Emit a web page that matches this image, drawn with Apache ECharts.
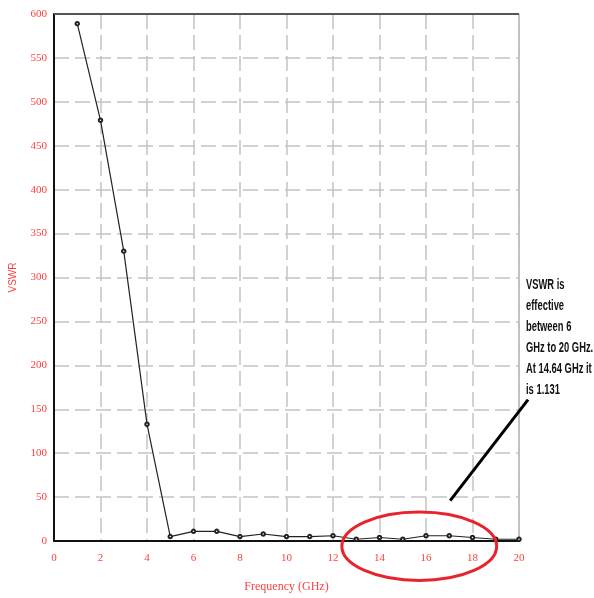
<!DOCTYPE html>
<html>
<head>
<meta charset="utf-8">
<script src="https://cdn.jsdelivr.net/npm/echarts@6/dist/echarts.min.js"></script>
<style>
  html, body { margin: 0; padding: 0; background: #fff; }
  #chart { width: 594px; height: 598px; }
</style>
</head>
<body>
<div id="chart"></div>
<script>
// VSWR measured at each integer frequency step
const frequencyGHz = [1, 2, 3, 4, 5, 6, 7, 8, 9, 10, 11, 12, 13, 14, 15, 16, 17, 18, 19, 20];
const vswr = [589, 479, 330, 133, 5, 11, 11, 5, 8, 5, 5, 6, 2, 4, 2, 6, 6, 4, 2, 2];

const xTicks = { min: 0, max: 20, step: 2 };
const yTicks = { min: 0, max: 600, step: 50 };

const noteText = 'VSWR is\neffective\nbetween 6\nGHz to 20 GHz.\nAt 14.64 GHz it\nis 1.131';

// Callout anchors in data units (frequency, VSWR)
const calloutFrom = [17.04, 46];
const calloutTo = [20.39, 161];
const ringCenter = [15.71, -6];
const ringHalfWidth = 3.33;
const ringHalfHeight = 39;

const red = '#ff4040';
const serif = "'Liberation Serif', serif";

const chart = echarts.init(document.getElementById('chart'));

const seriesData = frequencyGHz.map((f, i) => [f, vswr[i]]);

const dash = { type: [15, 6], color: '#c4c4c4', width: 1.5 };

chart.setOption({
  animation: false,
  backgroundColor: '#ffffff',
  grid: {
    left: 53, right: 75, top: 14, bottom: 54,
    show: true, borderColor: '#808080', borderWidth: 1
  },
  xAxis: {
    type: 'value',
    min: xTicks.min, max: xTicks.max, interval: xTicks.step,
    name: 'Frequency (GHz)',
    nameLocation: 'middle',
    nameGap: 40,
    nameTextStyle: { color: red, fontFamily: serif, fontSize: 12 },
    axisLine: { show: true, onZero: false, lineStyle: { color: '#111', width: 2 } },
    axisTick: { show: false },
    axisLabel: { color: red, fontFamily: serif, fontSize: 11, margin: 12 },
    splitLine: { show: true, lineStyle: dash }
  },
  yAxis: {
    type: 'value',
    min: yTicks.min, max: yTicks.max, interval: yTicks.step,
    name: 'VSWR',
    nameLocation: 'middle',
    nameRotate: 90,
    nameGap: 36,
    nameTextStyle: { color: red, fontFamily: "'Liberation Sans', sans-serif", fontSize: 10 },
    axisLine: { show: true, lineStyle: { color: '#111', width: 2 } },
    axisTick: { show: false },
    axisLabel: { color: red, fontFamily: serif, fontSize: 11, margin: 7 },
    splitLine: { show: true, lineStyle: dash }
  },
  series: [{
    type: 'line',
    data: seriesData,
    symbol: 'emptyCircle',
    symbolSize: 3.5,
    lineStyle: { color: '#222', width: 1.2 },
    itemStyle: { color: '#222', borderWidth: 1 },
    z: 5
  }]
});

// Darker top border, callout arrow, highlight ring and note
const tl = chart.convertToPixel({ gridIndex: 0 }, [xTicks.min, yTicks.max]);
const tr = chart.convertToPixel({ gridIndex: 0 }, [xTicks.max, yTicks.max]);
const p1 = chart.convertToPixel({ gridIndex: 0 }, calloutFrom);
const p2 = chart.convertToPixel({ gridIndex: 0 }, calloutTo);
const c = chart.convertToPixel({ gridIndex: 0 }, ringCenter);
const ce = chart.convertToPixel({ gridIndex: 0 }, [ringCenter[0] + ringHalfWidth, ringCenter[1] + ringHalfHeight]);

chart.setOption({
  graphic: [
    {
      type: 'line',
      shape: { x1: tl[0], y1: tl[1], x2: tr[0], y2: tr[1] },
      style: { stroke: '#555', lineWidth: 2 },
      z: 10
    },
    {
      type: 'line',
      shape: { x1: p1[0], y1: p1[1], x2: p2[0], y2: p2[1] },
      style: { stroke: '#000', lineWidth: 3 },
      z: 20
    },
    {
      type: 'ellipse',
      shape: { cx: c[0], cy: c[1], rx: ce[0] - c[0], ry: c[1] - ce[1] },
      style: { fill: null, stroke: '#e8232b', lineWidth: 3 },
      z: 20
    },
    {
      type: 'text',
      x: 526,
      y: 275,
      scaleX: 0.67,
      style: {
        text: noteText,
        fill: '#111',
        font: "bold 14px 'Liberation Sans', sans-serif",
        lineHeight: 21,
        verticalAlign: 'top',
        align: 'left'
      },
      z: 20
    }
  ]
});
</script>
</body>
</html>
